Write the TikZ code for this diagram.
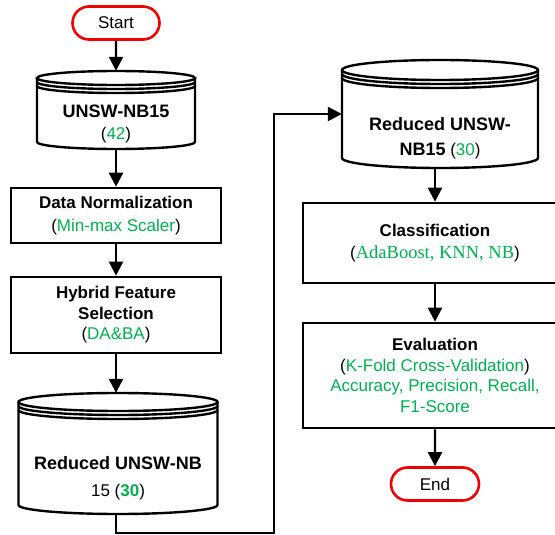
\documentclass[tikz,border=0pt]{standalone}
\usepackage{fontspec}
\setmainfont{Liberation Sans}
\newfontfamily\timesfam{Liberation Serif}
\usetikzlibrary{arrows.meta,shapes.misc}
\definecolor{grn}{RGB}{0,176,80}
\definecolor{termred}{RGB}{240,0,0}

% database drum: name, cx, top, half width, height, ellipse half-height
\newcommand{\dbdrum}[6]{%
  \node[drumbody, minimum width=2*#4, minimum height=#5] (#1) at (#2,#3+#5/2) {};
  \draw[drumline, fill=white] (#2-#4,#3+#6) -- (#2-#4,#3+#5-#6)
    arc[start angle=180, end angle=360, x radius=#4pt, y radius=#6pt] -- (#2+#4,#3+#6);
  \draw[drumline] (#2,#3+#6) ellipse[x radius=#4pt, y radius=#6pt];
  \foreach \g in {4,8}
    \draw[drumline] (#2-#4,#3+#6+\g) arc[start angle=180, end angle=360, x radius=#4pt, y radius=#6pt];
}

\begin{document}
\begin{tikzpicture}[
  x=1pt, y=-1pt,
  font=\fontsize{17}{20.5}\selectfont,
  flow/.style={-{Triangle[length=14pt,width=14pt]}, line width=2.4pt},
  stepbox/.style={draw, line width=2.6pt, align=center, inner sep=0pt},
  term/.style={rounded rectangle, draw=termred, line width=2.6pt, minimum width=87, minimum height=33, inner sep=0pt},
  drumbody/.style={inner sep=0pt},
  drumline/.style={line width=2.4pt},
  drumtxt/.style={align=center, inner sep=0pt}
]
  \useasboundingbox (0,0) rectangle (555,535);
  \clip (0,0) rectangle (555,535);

  % left column
  \node[term] (start) at (116,23) {Start};
  \dbdrum{raw}{116}{71}{79}{78}{7}
  \node[drumtxt] (raw-t) at (116,124)
    {{\fontsize{18}{21}\selectfont\bfseries UNSW-NB15}\\[1pt](\textcolor{grn}{42})};
  \node[stepbox, minimum width=210, minimum height=55] (norm) at (116,215.5)
    {\textbf{Data Normalization}\\[2.5pt](\textcolor{grn}{Min-max Scaler})};
  \node[stepbox, minimum width=210, minimum height=76] (hfs) at (116,315)
    {\textbf{Hybrid Feature}\\\textbf{Selection}\\(\textcolor{grn}{DA\&BA})};
  \dbdrum{red}{118}{393}{99.5}{121}{9}
  \node[drumtxt] (red-t) at (118,478)
    {{\fontsize{18}{21}\selectfont\bfseries Reduced UNSW-NB}\\[7pt]15 (\textcolor{grn}{\textbf{30}})};

  % right column
  \dbdrum{sel}{440}{60}{98}{108}{10}
  \node[drumtxt] (sel-t) at (440,138)
    {{\fontsize{18}{21}\selectfont\bfseries Reduced UNSW-}\\[4pt]{\fontsize{18}{21}\selectfont\bfseries NB15} (\textcolor{grn}{30})};
  \node[stepbox, minimum width=264, minimum height=80] (cls) at (435,243)
    {\textbf{Classification}\\[1.5pt](\textcolor{grn}{\fontsize{18.5}{20.5}\selectfont\timesfam AdaBoost, KNN, NB})};
  \node[stepbox, minimum width=264, minimum height=105] (eval) at (435,375.5)
    {\textbf{Evaluation}\\(\textcolor{grn}{K-Fold Cross-Validation})\\
     \textcolor{grn}{Accuracy, Precision, Recall,}\\\textcolor{grn}{F1-Score}};
  \node[term, minimum width=88] (end) at (435,484) {End};

  % connectors
  \coordinate (bend) at (274,533);
  \draw[flow] (start) -- (raw);
  \draw[flow] (raw) -- (norm);
  \draw[flow] (norm) -- (hfs);
  \draw[flow] (hfs.south) -- (hfs.south |- red.north);
  \draw[flow] (red.south -| hfs.south) |- (bend) |- (sel.west);
  \draw[flow] (sel.south -| cls.north) -- (cls.north);
  \draw[flow] (cls) -- (eval);
  \draw[flow] (eval) -- (end);
\end{tikzpicture}
\end{document}
